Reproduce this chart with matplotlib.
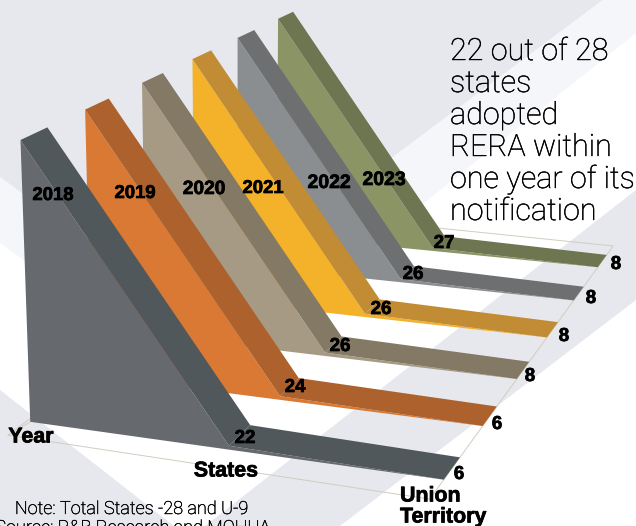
import numpy as np
import matplotlib
matplotlib.use("Agg")
import matplotlib.pyplot as plt
from matplotlib.patches import Polygon
from matplotlib import patheffects

# Chart data
years = ["2018", "2019", "2020", "2021", "2022", "2023"]
states = [22, 24, 26, 26, 26, 27]
union_territories = [6, 6, 8, 8, 8, 8]

# Ribbon colours per year
face_colors = ["#66696d", "#d97933", "#a69a84", "#f3b229", "#8a8e91", "#8a9465"]
top_colors = ["#50585c", "#ad612d", "#837965", "#c18c33", "#6d6f70", "#6d7551"]

# Background chevrons, in figure pixels
BAND_GREY = "#e6e8ed"
BAND_LIGHT = "#f5f6f9"
chevrons = [
    (BAND_GREY, [(0, 0), (603, 0), (183, 314), (0, 177)]),
    (BAND_LIGHT, [(0, 177), (183, 314), (603, 0), (636, 0), (636, 33), (197, 385), (0, 243)]),
    (BAND_GREY, [(0, 390), (174, 526), (0, 526)]),
    (BAND_GREY, [(205, 526), (636, 190), (636, 300), (340, 526)]),
]

# Perspective camera: depth d (one unit per year), lateral u, height h -> pixels
CAM = [30.1307, 67.36735, 190.34128, -10.51721,
       418.61978, -21.96424, 12.72202, -284.64942,
       0.065, -0.03713, -0.04304]
THICKNESS = 0.40     # ribbon depth, in years
SLIVER = 0.008       # height left at the states/territory joint
WALL_FOOT = -0.012   # the upright wall's foot sits slightly below the floor plane
FLOOR_FRONT, FLOOR_BACK = -0.33, 5.7


def project(d, u, h=0.0):
    a = CAM
    w = 1 + a[8] * d + a[9] * u + a[10] * h
    return ((a[0] + a[1] * d + a[2] * u + a[3] * h) / w,
            (a[4] + a[5] * d + a[6] * u + a[7] * h) / w)


fig = plt.figure(figsize=(6.36, 5.26), dpi=100)
ax = fig.add_axes([0, 0, 1, 1])
ax.set_xlim(0, 636)
ax.set_ylim(526, 0)
ax.axis("off")

for color, corners in chevrons:
    ax.add_patch(Polygon(corners, closed=True, fc=color, ec="none", zorder=0))

# Floor outline
floor = [project(FLOOR_FRONT, 0), project(FLOOR_FRONT, 2),
         project(FLOOR_BACK, 2), project(FLOOR_BACK, 0)]
ax.add_patch(Polygon(floor, closed=True, fc="none", ec="#d3ccc0", lw=0.7, zorder=1))
ax.plot(*zip(project(FLOOR_FRONT, 0), project(0, 0, WALL_FOOT)), color="#d3ccc0", lw=0.7, zorder=1)

# Each year's bands are drawn to that year's own figures, so the two
# segments span one full lateral unit whatever the count is.
state_span = np.array(states) / np.array(states)
ut_span = np.array(union_territories) / np.array(union_territories)

# Ribbons run back to front so that nearer years cover farther ones
for i in reversed(range(len(years))):
    d = i
    back = d + THICKNESS
    joint = state_span[i]
    end = joint + ut_span[i]
    order = 2 + (len(years) - i)
    face = [project(d, 0, WALL_FOOT), project(d, 0, 1), project(d, joint, SLIVER), project(d, end, 0)]
    slope = [project(d, 0, 1), project(back, 0, 1), project(back, joint, SLIVER), project(d, joint, SLIVER)]
    tail = [project(d, joint, SLIVER), project(back, joint, SLIVER), project(back, end, 0), project(d, end, 0)]
    ax.add_patch(Polygon(face, closed=True, fc=face_colors[i], ec="none", zorder=order))
    ax.add_patch(Polygon(slope, closed=True, fc=top_colors[i], ec="none", zorder=order))
    ax.add_patch(Polygon(tail, closed=True, fc=top_colors[i], ec="none", zorder=order))

HEAVY = [patheffects.withStroke(linewidth=0.5, foreground="black")]
FIRM = [patheffects.withStroke(linewidth=0.3, foreground="black")]
BOLD = dict(family="Liberation Sans", weight="bold", color="black", zorder=20,
            ha="center", va="center", path_effects=HEAVY)
LIGHT = dict(family="Roboto", weight="light", color="black", zorder=20, path_effects=FIRM)

year_label_xy = [(53, 195.5), (135, 193.5), (204, 189.5), (263, 188.5), (329, 183.5), (384, 180.5)]
year_label_size = [13.3, 13.3, 13.8, 13.3, 14, 14]
state_label_xy = [(245, 438.5), (295, 387.5), (340, 346.5), (381, 309.5), (413, 274.5), (444, 243.5)]
ut_label_xy = [(459, 474.5), (497, 424.5), (530, 376.5), (564, 336.5), (591, 298.5), (616, 264.5)]

for name, pos, size in zip(years, year_label_xy, year_label_size):
    ax.text(*pos, name, fontsize=size, **BOLD)
for value, pos in zip(states, state_label_xy):
    ax.text(*pos, str(value), fontsize=13.5, **BOLD)
for value, pos in zip(union_territories, ut_label_xy):
    ax.text(*pos, str(value), fontsize=13.5, **BOLD)

ax.text(31, 437, "Year", fontsize=15.4, **BOLD)
ax.text(226, 471, "States", fontsize=15.4, **BOLD)
ax.text(400, 496, "Union", fontsize=15.4, **{**BOLD, "ha": "left"})
ax.text(400, 517, "Territory", fontsize=15.4, **{**BOLD, "ha": "left"})

headline = ["22 out of 28", "states", "adopted", "RERA within", "one year of its", "notification"]
for k, line in enumerate(headline):
    ax.text(450, 60 + 32 * k, line, fontsize=22, ha="left", va="baseline", **LIGHT)

ax.text(131, 514, "Note: Total States -28 and U-9", fontsize=13, ha="center", va="baseline", **LIGHT)
ax.text(132, 533, "Source: R&B Research and MOHUA", fontsize=13, ha="center", va="baseline", **LIGHT)

fig.savefig("out.png", dpi=100)
